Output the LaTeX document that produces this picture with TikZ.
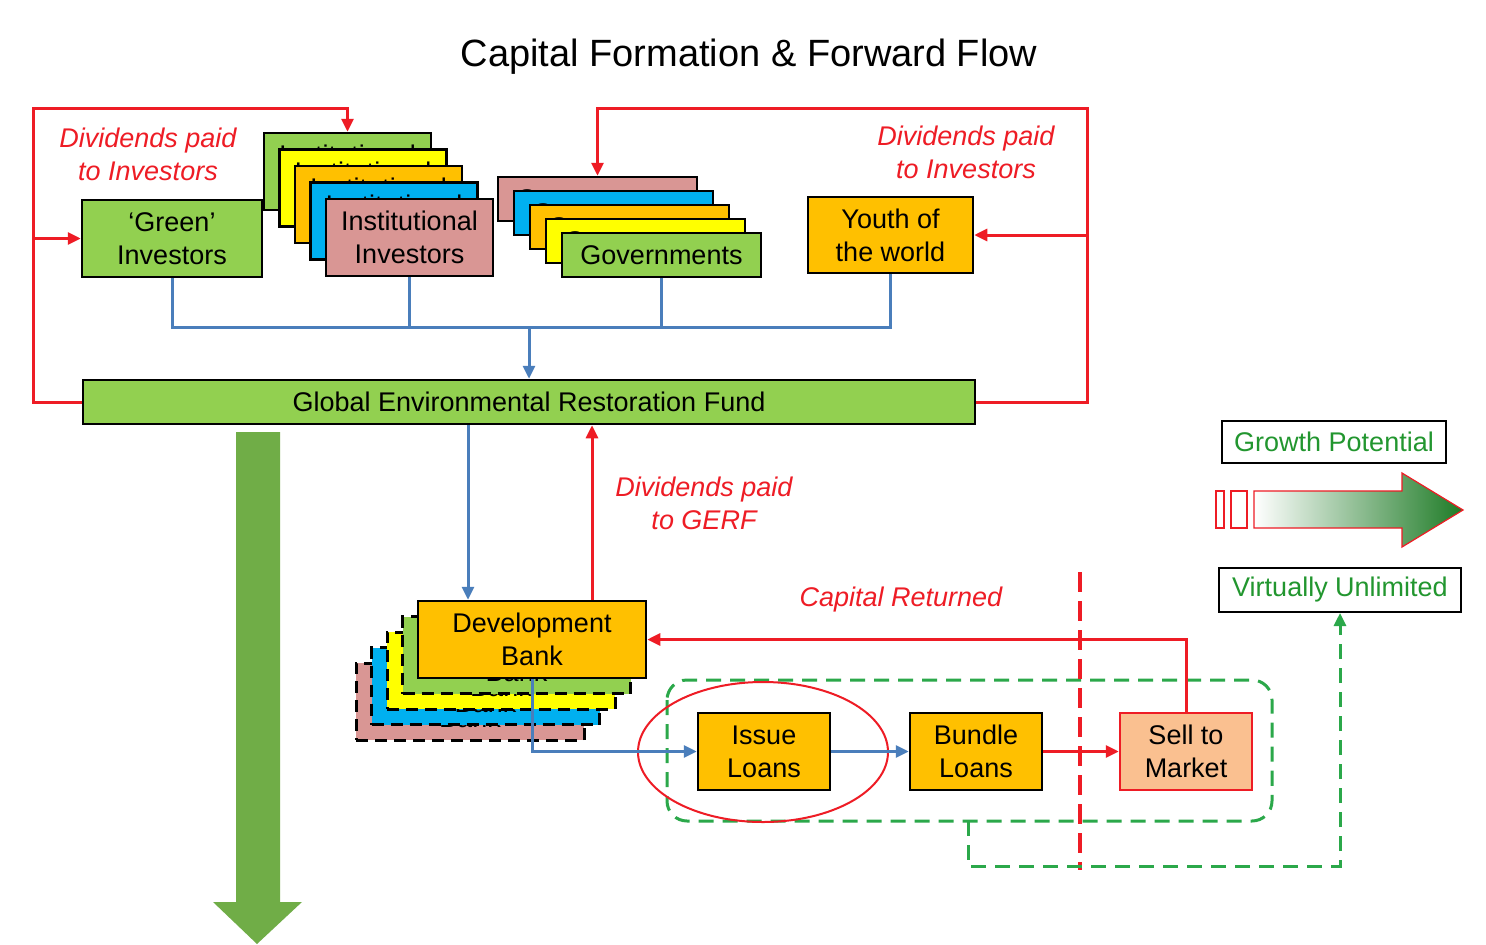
\documentclass[tikz,border=0pt]{standalone}
\usepackage{fontspec}
\setmainfont{Liberation Sans}
\usetikzlibrary{arrows.meta}

\definecolor{mGreen}{HTML}{92D050}
\definecolor{mYellow}{HTML}{FFFF00}
\definecolor{mOrange}{HTML}{FFC000}
\definecolor{mBlue}{HTML}{00B0F0}
\definecolor{mPink}{HTML}{D99694}
\definecolor{mPeach}{HTML}{FAC090}
\definecolor{mRed}{HTML}{EE1C25}
\definecolor{mLine}{HTML}{4A7EBB}
\definecolor{mArrowGreen}{HTML}{70AD47}
\definecolor{mDarkGreen}{HTML}{1E7B26}
\definecolor{mTextGreen}{HTML}{22962F}
\definecolor{mDash}{HTML}{2BA84A}

\begin{document}
\begin{tikzpicture}[x=1pt,y=-1pt,
  >={Triangle[length=13pt,width=12pt]},
  every node/.style={font=\fontsize{27}{33}\selectfont},
  box/.style={draw=black,line width=2.5pt,inner sep=0pt,align=center},
  invbox/.style={box,minimum width=167pt,minimum height=77pt},
  govbox/.style={box,minimum width=199pt,minimum height=44pt},
  bankbox/.style={box,minimum width=228pt,minimum height=77pt},
  bankback/.style={bankbox,dash pattern=on 12pt off 7pt,line width=3pt},
  loanbox/.style={box,minimum width=132pt,minimum height=77pt},
  greenbox/.style={draw=black,line width=2pt,text=mTextGreen,inner sep=0pt},
  blueline/.style={mLine,line width=3pt},
  redline/.style={mRed,line width=3pt},
  redtext/.style={mRed,align=center,font=\fontsize{27}{33}\selectfont\itshape},
  greendash/.style={mDash,line width=3pt,dash pattern=on 15pt off 9pt}]

\useasboundingbox[fill=white] (0,0) rectangle (1486,945);

\node (title) at (749,57) {\fontsize{38}{44}\selectfont Capital Formation \& Forward Flow};

\node[box,fill=mGreen,minimum width=180pt,minimum height=77pt] (greeninv) at (172,238.5) {‘Green’\\Investors};

\node[invbox,fill=mGreen] (instG) at (347.5,171.5) {Institutional\\Investors};
\node[invbox,fill=mYellow] (instY) at (363,188) {Institutional\\Investors};
\node[invbox,fill=mOrange] (instO) at (378.5,204.5) {Institutional\\Investors};
\node[invbox,fill=mBlue] (instB) at (394,221) {Institutional\\Investors};
\node[invbox,fill=mPink] (inst) at (409.5,237.5) {Institutional\\Investors};

\node[govbox,fill=mPink] (govP) at (597.5,199) {Governments};
\node[govbox,fill=mBlue] (govB) at (613.5,213) {Governments};
\node[govbox,fill=mOrange] (govO) at (629.5,227) {Governments};
\node[govbox,fill=mYellow] (govY) at (645.5,241) {Governments};
\node[govbox,fill=mGreen] (gov) at (661.5,255) {Governments};

\node[box,fill=mOrange,minimum width=165pt,minimum height=76pt] (youth) at (890.5,235) {Youth of\\the world};

\node[box,fill=mGreen,minimum width=892pt,minimum height=44pt] (gerf) at (529,402) {Global Environmental Restoration Fund};

\node[redtext] (divL) at (148,154.5) {Dividends paid\\to Investors};
\node[redtext] (divR) at (966,152.5) {Dividends paid\\to Investors};

\coordinate (bus) at (529,327);
\draw[blueline] (greeninv.south) |- (bus);
\draw[blueline] (inst.south) |- (bus);
\draw[blueline] (gov.south) |- (bus);
\draw[blueline] (youth.south) |- (bus);
\draw[blueline,->] (bus) -- (gerf);

\coordinate (lcorner) at (33,108);
\draw[redline,->] (gerf.west) -| (lcorner) -| (instG.north);
\draw[redline,->] (lcorner |- greeninv.west) -- (greeninv.west);

\coordinate (rcorner) at (1087,108);
\draw[redline,->] (gerf.east) -| (rcorner) -| (govP.north);
\draw[redline,->] (rcorner |- youth.east) -- (youth.east);

\fill[mArrowGreen] (236,432) -- (280,432) -- (280,902) -- (302,902) -- (257,944) -- (213,902) -- (236,902) -- cycle;

\draw[greendash,rounded corners=20pt] (667,680) rectangle (1272,821);
\draw[mRed,line width=2pt] (763,752) ellipse [x radius=125pt,y radius=70pt];
\draw[mRed,line width=4pt,dash pattern=on 20pt off 9pt] (1080,572) -- (1080,870);

\node[bankback,fill=mPink] (bankP) at (470,701.5) {Development\\Bank};
\node[bankback,fill=mBlue] (bankB) at (485.5,686) {Development\\Bank};
\node[bankback,fill=mYellow] (bankY) at (501,670.5) {Development\\Bank};
\node[bankback,fill=mGreen] (bankG) at (516.5,655) {Development\\Bank};
\node[bankbox,fill=mOrange] (bank) at (532,639.5) {Development\\Bank};

\node[loanbox,fill=mOrange] (issue) at (764,751.5) {Issue\\Loans};
\node[loanbox,fill=mOrange] (bundle) at (976,751.5) {Bundle\\Loans};
\node[loanbox,fill=mPeach,draw=mRed] (sell) at (1186,751.5) {Sell to\\Market};

\draw[blueline,->] ([xshift=-61pt]gerf.south) -- ([xshift=-61pt]gerf.south |- bank.north);
\draw[redline,->] ([xshift=60pt]bank.north) -- ([xshift=60pt]bank.north |- gerf.south);
\node[redtext] (divGerf) at (704,503) {Dividends paid\\to GERF};

\draw[blueline,->] (bank.south) |- (issue.west);
\draw[blueline,->] (issue) -- (bundle);
\draw[redline,->] (bundle) -- (sell);
\draw[redline,->] (sell.north) |- (bank.east);
\node[redtext] (capret) at (901,600) {Capital Returned};

\node[greenbox,minimum width=224pt,minimum height=42pt] (growth) at (1334,442) {Growth Potential};
\node[greenbox,minimum width=242pt,minimum height=44pt] (unlim) at (1340,590) {Virtually Unlimited};

\shade[left color=white,right color=mDarkGreen,draw=mRed,line width=1.2pt] (1254,491) -- (1402,491) -- (1402,473) -- (1463,510) -- (1402,547) -- (1402,528) -- (1254,528) -- cycle;
\draw[mRed,line width=1.2pt,fill=white] (1216,491) rectangle (1224,528);
\draw[mRed,line width=1.2pt,fill=white] (1231,491) rectangle (1247,528);

\coordinate (gdrop) at (968,821);
\coordinate (gbot) at (968,866);
\draw[greendash,->] (gdrop) -- (gbot) -| (unlim.south);

\end{tikzpicture}
\end{document}
